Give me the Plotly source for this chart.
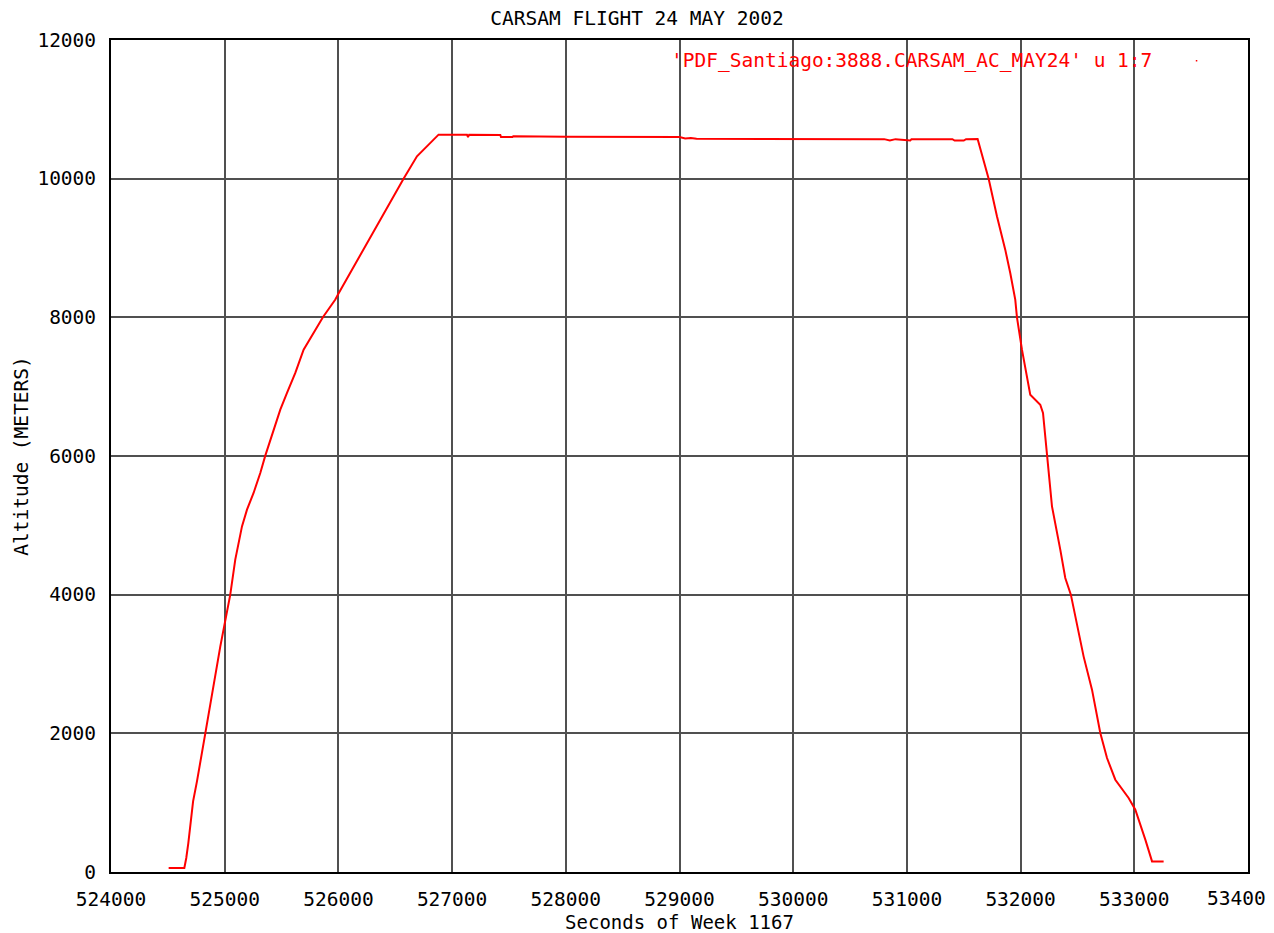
import plotly.graph_objects as go

# Flight track: GPS seconds of week vs. altitude (m)
seconds = [
    524507, 524645, 524662, 524680, 524722, 524756, 524829, 524961, 525049,
    525093, 525152, 525196, 525254, 525313, 525357, 525401, 525460, 525489,
    525548, 525621, 525694, 525782, 525865, 525973, 526000, 526573, 526691,
    526881, 527131, 527140, 527150, 527424, 527430, 527530, 527538, 528000,
    529000, 529050, 529100, 529150, 530000, 530800, 530850, 530900, 531030,
    531040, 531400, 531420, 531500, 531520, 531622, 531647, 531719, 531792,
    531865, 531909, 531953, 531968, 532012, 532085, 532173, 532197, 532232,
    532276, 532349, 532393, 532442, 532554, 532628, 532701, 532760, 532833,
    532950, 533009, 533097, 533156, 533258,
]
altitude = [
    58, 58, 202, 418, 1018, 1307, 1995, 3250, 4000,
    4505, 4985, 5226, 5467, 5755, 6005, 6236, 6524, 6669,
    6909, 7198, 7534, 7775, 8005, 8256, 8340, 10000, 10322,
    10635, 10635, 10600, 10635, 10630, 10600, 10600, 10610, 10605,
    10600, 10580, 10585, 10575, 10573, 10570, 10550, 10570, 10550,
    10570, 10570, 10550, 10550, 10570, 10573, 10423, 10000, 9457,
    8976, 8640, 8256, 8000, 7534, 6885, 6740, 6621, 5995,
    5274, 4649, 4241, 4000, 3110, 2630, 2005, 1644, 1331,
    1067, 899, 466, 153, 153,
]

x_ticks = [524000, 525000, 526000, 527000, 528000, 529000, 530000,
           531000, 532000, 533000]
x_ticktext = ["524000", "525000", "526000", "527000", "528000", "529000",
              "530000", "531000", "532000", "533000"]
y_ticks = [0, 2000, 4000, 6000, 8000, 10000, 12000]
y_ticktext = ["0", "2000", "4000", "6000", "8000", "10000", "12000"]

legend_label = "'PDF_Santiago:3888.CARSAM_AC_MAY24' u 1:7"

FONT = "DejaVu Sans Mono"
FS = 19.5
GRID = "#505050"

fig = go.Figure()
fig.add_trace(go.Scatter(
    x=seconds, y=altitude, mode="lines",
    line=dict(color="#ff0000", width=2),
    showlegend=False, hoverinfo="skip",
))

fig.update_layout(
    width=1274, height=933,
    paper_bgcolor="white", plot_bgcolor="white",
    margin=dict(l=110.7, r=26.3, t=40, b=60.7, pad=0, autoexpand=False),
    font=dict(family=FONT, size=FS, color="black"),
    title=dict(text="CARSAM FLIGHT 24 MAY 2002", x=0.5, xanchor="center",
               y=1 - 18 / 933, yanchor="middle",
               xref="container", yref="container",
               font=dict(family=FONT, size=FS, color="black")),
    showlegend=False,
)

fig.update_xaxes(
    range=[524000, 534000], autorange=False, automargin=False,
    tickmode="array", tickvals=x_ticks, ticktext=x_ticktext,
    showgrid=True, gridcolor=GRID, gridwidth=1.6,
    showline=True, linecolor="black", linewidth=2, mirror=True,
    zeroline=False, ticks="", ticklabelstandoff=9,
    title=dict(text="Seconds of Week 1167", standoff=8,
               font=dict(family=FONT, size=19)),
)
fig.update_yaxes(
    range=[0, 12000], autorange=False, automargin=False,
    tickmode="array", tickvals=y_ticks, ticktext=y_ticktext,
    showgrid=True, gridcolor=GRID, gridwidth=1.6,
    showline=True, linecolor="black", linewidth=2, mirror=True,
    zeroline=False, ticks="", ticklabelstandoff=9,
    title=dict(text="Altitude (METERS)", standoff=4,
               font=dict(family=FONT, size=FS)),
)

# last x tick label, clipped at the page edge
fig.add_annotation(
    x=534000, y=0, xref="x", yref="y", text="53400",
    showarrow=False, xanchor="right", xshift=20, yanchor="top", yshift=-13,
    font=dict(family=FONT, size=FS, color="black"),
)

# key: title text with a single-point sample
fig.add_annotation(
    x=(1154 - 110.7) / 1137, y=1 - (61 - 40) / 832.3, xref="paper", yref="paper",
    text=legend_label, showarrow=False, xanchor="right", yanchor="middle",
    font=dict(family=FONT, size=FS, color="#ff0000"),
)
fig.add_shape(
    type="rect", xref="paper", yref="paper",
    x0=(1195.5 - 110.7) / 1137, x1=(1197 - 110.7) / 1137,
    y0=1 - (61.5 - 40) / 832.3, y1=1 - (60 - 40) / 832.3,
    line=dict(width=0), fillcolor="#ff0000",
)

fig.write_html("out.html")
